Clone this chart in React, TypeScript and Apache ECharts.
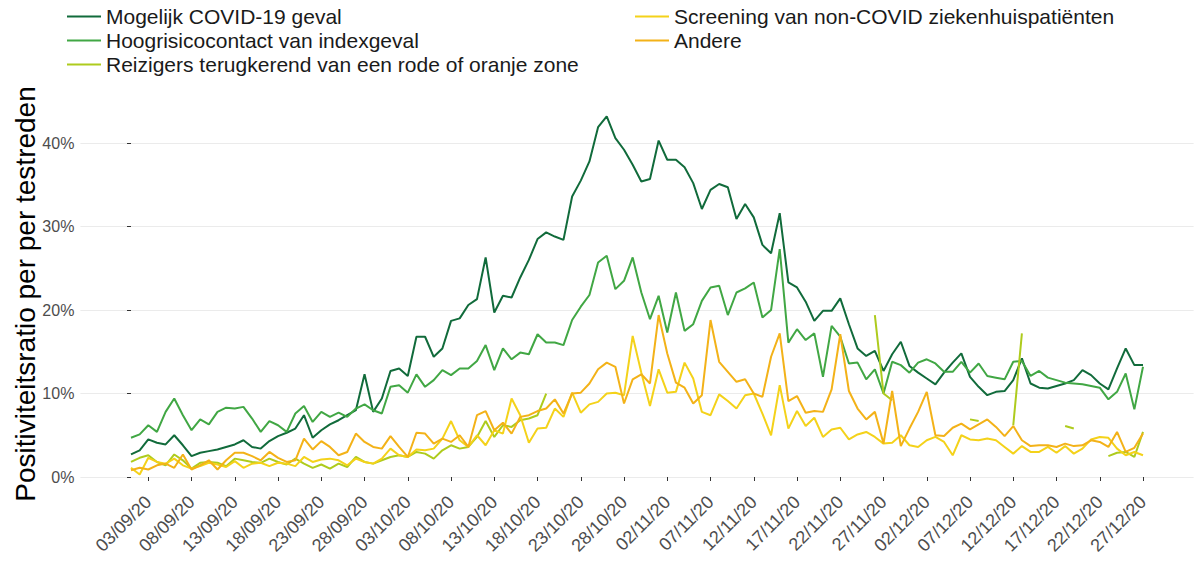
import React, { useEffect, useRef } from "react";
import * as echarts from "echarts";

const FONT = "'Liberation Sans', Arial, Helvetica, sans-serif";

// Daily dates 01/09/20 .. 27/12/20
const START = Date.UTC(2020, 8, 1);
const N_DAYS = 118;
const dates: string[] = Array.from({ length: N_DAYS }, (_, i) => {
  const d = new Date(START + i * 86400000);
  const dd = String(d.getUTCDate()).padStart(2, "0");
  const mm = String(d.getUTCMonth() + 1).padStart(2, "0");
  return `${dd}/${mm}/20`;
});

const xTickLabels = [
  "03/09/20", "08/09/20", "13/09/20", "18/09/20", "23/09/20", "28/09/20",
  "03/10/20", "08/10/20", "13/10/20", "18/10/20", "23/10/20", "28/10/20",
  "02/11/20", "07/11/20", "12/11/20", "17/11/20", "22/11/20", "27/11/20",
  "02/12/20", "07/12/20", "12/12/20", "17/12/20", "22/12/20", "27/12/20",
];
const yTicks = [0, 10, 20, 30, 40];

const seriesNames = [
  "Mogelijk COVID-19 geval",
  "Hoogrisicocontact van indexgeval",
  "Reizigers terugkerend van een rode of oranje zone",
  "Screening van non-COVID ziekenhuispatiënten",
  "Andere",
];
const seriesColors = ["#116b3b", "#41a744", "#aecb1d", "#f4d21a", "#f3b218"];

const mogelijk = [
  2.7, 3.2, 4.5, 4.1, 3.9, 5.0, 3.8, 2.5, 2.9, 3.1,
  3.3, 3.6, 3.9, 4.4, 3.6, 3.4, 4.3, 4.9, 5.3, 5.8,
  7.4, 4.7, 5.6, 6.3, 6.8, 7.4, 8.0, 12.3, 7.8, 9.4,
  12.7, 13.0, 12.1, 16.8, 16.8, 14.4, 15.4, 18.7, 19.0, 20.6,
  21.3, 26.3, 19.7, 21.7, 21.5, 23.9, 26.0, 28.5, 29.3, 28.8,
  28.4, 33.6, 35.5, 37.8, 41.9, 43.2, 40.6, 39.2, 37.4, 35.4,
  35.7, 40.3, 38.0, 38.0, 37.1, 35.2, 32.1, 34.4, 35.1, 34.7,
  30.9, 32.7, 31.1, 27.8, 26.8, 31.6, 23.3, 22.7, 21.0, 18.7,
  19.9, 19.9, 21.4, 18.3, 15.4, 14.5, 15.1, 12.7, 14.7, 16.2,
  13.3, 12.5, 11.8, 11.1, 12.5, 13.7, 14.8, 12.0, 10.8, 9.8,
  10.2, 10.3, 11.6, 14.2, 11.2, 10.7, 10.6, 10.9, 11.2, 11.6,
  12.8, 12.2, 11.2, 10.5, 13.0, 15.4, 13.4, 13.4,
];

const hoogrisico = [
  4.7, 5.1, 6.2, 5.4, 7.8, 9.4, 7.4, 5.6, 6.9, 6.3,
  7.8, 8.3, 8.2, 8.4, 7.0, 5.4, 6.7, 6.2, 5.4, 7.6,
  8.5, 6.6, 7.8, 7.2, 7.7, 7.2, 8.2, 8.7, 8.0, 7.6,
  10.8, 11.0, 10.1, 12.3, 10.8, 11.6, 12.8, 12.2, 13.0, 13.0,
  13.9, 15.8, 12.8, 15.4, 14.1, 14.9, 14.7, 17.1, 16.1, 16.1,
  15.8, 18.8, 20.4, 21.8, 25.7, 26.5, 22.5, 23.5, 26.3, 22.1,
  18.9, 21.7, 17.3, 22.1, 17.5, 18.3, 21.1, 22.7, 22.9, 19.4,
  22.1, 22.6, 23.3, 19.1, 20.0, 27.3, 16.1, 17.7, 16.4, 17.2,
  12.0, 18.1, 16.8, 13.6, 13.7, 11.7, 12.9, 10.0, 13.8, 13.4,
  12.5, 13.7, 14.1, 13.6, 12.6, 12.6, 13.8, 12.5, 13.6, 12.1,
  11.9, 11.7, 13.8, 13.9, 12.1, 12.7, 11.9, 11.6, 11.3, 11.2,
  11.1, 10.9, 10.7, 9.3, 10.2, 12.4, 8.1, 13.2,
];

const reizigers: (number | null)[] = [
  1.8, 2.3, 2.6, 1.8, 1.4, 2.7, 2.0, 1.0, 1.7, 1.8,
  1.7, 1.3, 2.2, 2.0, 1.8, 1.7, 2.2, 1.8, 1.5, 2.2,
  1.6, 1.1, 1.5, 1.0, 1.6, 1.2, 2.4, 1.8, 1.6, 2.0,
  2.4, 2.6, 2.4, 3.0, 2.8, 2.2, 3.2, 3.8, 3.4, 3.6,
  4.8, 6.7, 4.8, 6.2, 6.0, 6.8, 7.0, 7.4, 10.0, null,
  null, null, null, null, null, null, null, null, null, null,
  null, null, null, null, null, null, null, null, null, null,
  null, null, null, null, null, null, null, null, null, null,
  null, null, null, null, null, null, 19.4, 10.0, 9.2, null,
  null, null, null, null, null, null, null, 6.9, 6.7, null,
  null, null, 6.2, 17.2, null, null, null, null, 6.1, 5.8,
  null, null, null, 2.5, 2.9, 3.0, 2.4, 5.4,
];

const screening = [
  1.1, 0.3, 2.3, 1.8, 1.6, 2.2, 1.4, 1.0, 1.3, 1.7,
  1.5, 1.2, 1.9, 1.1, 1.6, 1.7, 1.3, 1.7, 1.6, 1.3,
  2.4, 1.8, 2.1, 2.2, 2.0, 1.4, 2.2, 1.8, 1.6, 2.2,
  3.4, 2.6, 2.4, 3.3, 3.2, 3.4, 4.6, 6.7, 4.4, 3.6,
  5.0, 3.8, 5.6, 5.2, 9.4, 7.4, 4.1, 5.8, 5.9, 8.2,
  7.2, 10.1, 7.7, 8.7, 9.0, 10.0, 10.1, 9.8, 16.9, 12.5,
  8.5, 12.9, 10.1, 10.2, 13.7, 11.8, 7.8, 7.4, 9.9, 9.1,
  8.2, 9.8, 10.0, 7.6, 5.0, 11.0, 5.8, 7.9, 6.1, 7.1,
  4.8, 5.7, 5.9, 4.5, 5.1, 5.4, 4.8, 4.0, 4.1, 5.0,
  3.8, 3.6, 4.4, 4.8, 4.2, 2.6, 5.0, 4.5, 4.4, 4.6,
  4.4, 3.6, 2.8, 3.7, 3.0, 3.0, 3.6, 2.9, 3.7, 2.8,
  3.4, 4.5, 4.8, 4.7, 3.4, 2.6, 3.0, 2.6,
];

const andere = [
  0.8, 1.1, 0.9, 1.4, 1.6, 1.1, 2.7, 0.9, 1.4, 2.0,
  0.9, 2.0, 2.9, 2.9, 2.5, 2.0, 3.0, 2.3, 1.8, 2.0,
  4.6, 3.3, 4.3, 3.6, 2.6, 3.0, 5.2, 4.2, 3.6, 3.4,
  4.9, 3.6, 2.4, 5.3, 5.2, 4.0, 4.6, 4.2, 5.0, 3.6,
  7.4, 7.9, 5.6, 6.5, 5.2, 7.2, 7.4, 7.9, 8.2, 9.3,
  7.6, 10.0, 10.1, 11.2, 12.9, 13.7, 13.2, 8.8, 11.7, 12.3,
  11.2, 19.4, 14.8, 11.3, 10.7, 8.8, 9.8, 18.8, 13.8, 12.6,
  11.4, 11.7, 10.0, 9.6, 14.4, 17.2, 9.1, 9.7, 7.7, 7.9,
  7.8, 10.5, 17.1, 10.3, 8.2, 6.9, 7.8, 4.0, 10.3, 3.7,
  5.8, 7.8, 10.2, 5.0, 4.9, 5.9, 6.4, 5.7, 6.3, 6.9,
  6.0, 4.9, 6.1, 4.4, 3.7, 3.8, 3.8, 3.6, 4.0, 3.7,
  3.8, 4.4, 4.2, 3.6, 5.4, 3.0, 3.5, 5.2,
];

const allSeries = [mogelijk, hoogrisico, reizigers, screening, andere];

export default function App() {
  const ref = useRef<HTMLDivElement>(null);
  useEffect(() => {
    if (!ref.current) return;
    const chart = echarts.init(ref.current, null, { renderer: "svg" });
    const tickIdx = xTickLabels.map((l) => dates.indexOf(l));
    const legendText = {
      fontSize: 21,
      color: "#1a1a1a",
      fontFamily: FONT,
      lineHeight: 21,
    };
    const legendBase = {
      orient: "vertical",
      top: 1,
      icon: "rect",
      itemWidth: 34,
      itemHeight: 2,
      itemGap: 3,
      textStyle: legendText,
      selectedMode: false,
    };
    chart.setOption({
      animation: false,
      backgroundColor: "#ffffff",
      textStyle: { fontFamily: FONT },
      grid: { left: 80.4, right: 4.4, top: 101.3, bottom: 94 },
      legend: [
        { ...legendBase, data: seriesNames.slice(0, 3), left: 62 },
        { ...legendBase, data: seriesNames.slice(3), left: 630 },
      ],
      xAxis: {
        type: "value",
        min: -5.85,
        max: 122.85,
        offset: 16,
        splitLine: { show: false },
        axisLine: { show: false },
        axisTick: {
          show: true,
          customValues: tickIdx,
          length: 4,
          lineStyle: { color: "#333333", width: 1 },
        },
        axisLabel: {
          customValues: tickIdx,
          rotate: 45,
          fontSize: 18,
          color: "#4d4d4d",
          fontFamily: FONT,
          margin: 6,
          formatter: (v: number) => dates[Math.round(v)] ?? "",
        },
      },
      yAxis: {
        type: "value",
        min: 0,
        max: 45,
        interval: 5,
        axisLine: { show: false },
        splitLine: { show: true, lineStyle: { color: "#ebebeb", width: 1 } },
        axisTick: {
          show: true,
          customValues: yTicks,
          length: 4,
          lineStyle: { color: "#333333", width: 1 },
        },
        axisLabel: {
          customValues: yTicks,
          fontSize: 16,
          color: "#4d4d4d",
          fontFamily: FONT,
          margin: 6,
          formatter: (v: number) => `${v}%`,
        },
      },
      graphic: [
        {
          type: "text",
          x: 25,
          y: 294,
          rotation: Math.PI / 2,
          style: {
            text: "Positiviteitsratio per per testreden",
            fontSize: 28,
            fontFamily: FONT,
            fill: "#000000",
            align: "center",
            verticalAlign: "middle",
          },
        },
      ],
      series: seriesNames.map((name, k) => ({
        name,
        type: "line",
        data: allSeries[k].map((v, i) => [i, v]),
        showSymbol: false,
        symbol: "none",
        connectNulls: false,
        lineStyle: { color: seriesColors[k], width: 2 },
        itemStyle: { color: seriesColors[k] },
        emphasis: { disabled: true },
        z: 2 + k,
      })),
    });
    return () => chart.dispose();
  }, []);
  return (
    <div
      ref={ref}
      style={{ position: "fixed", left: 0, top: 0, width: 1198, height: 571 }}
    />
  );
}
